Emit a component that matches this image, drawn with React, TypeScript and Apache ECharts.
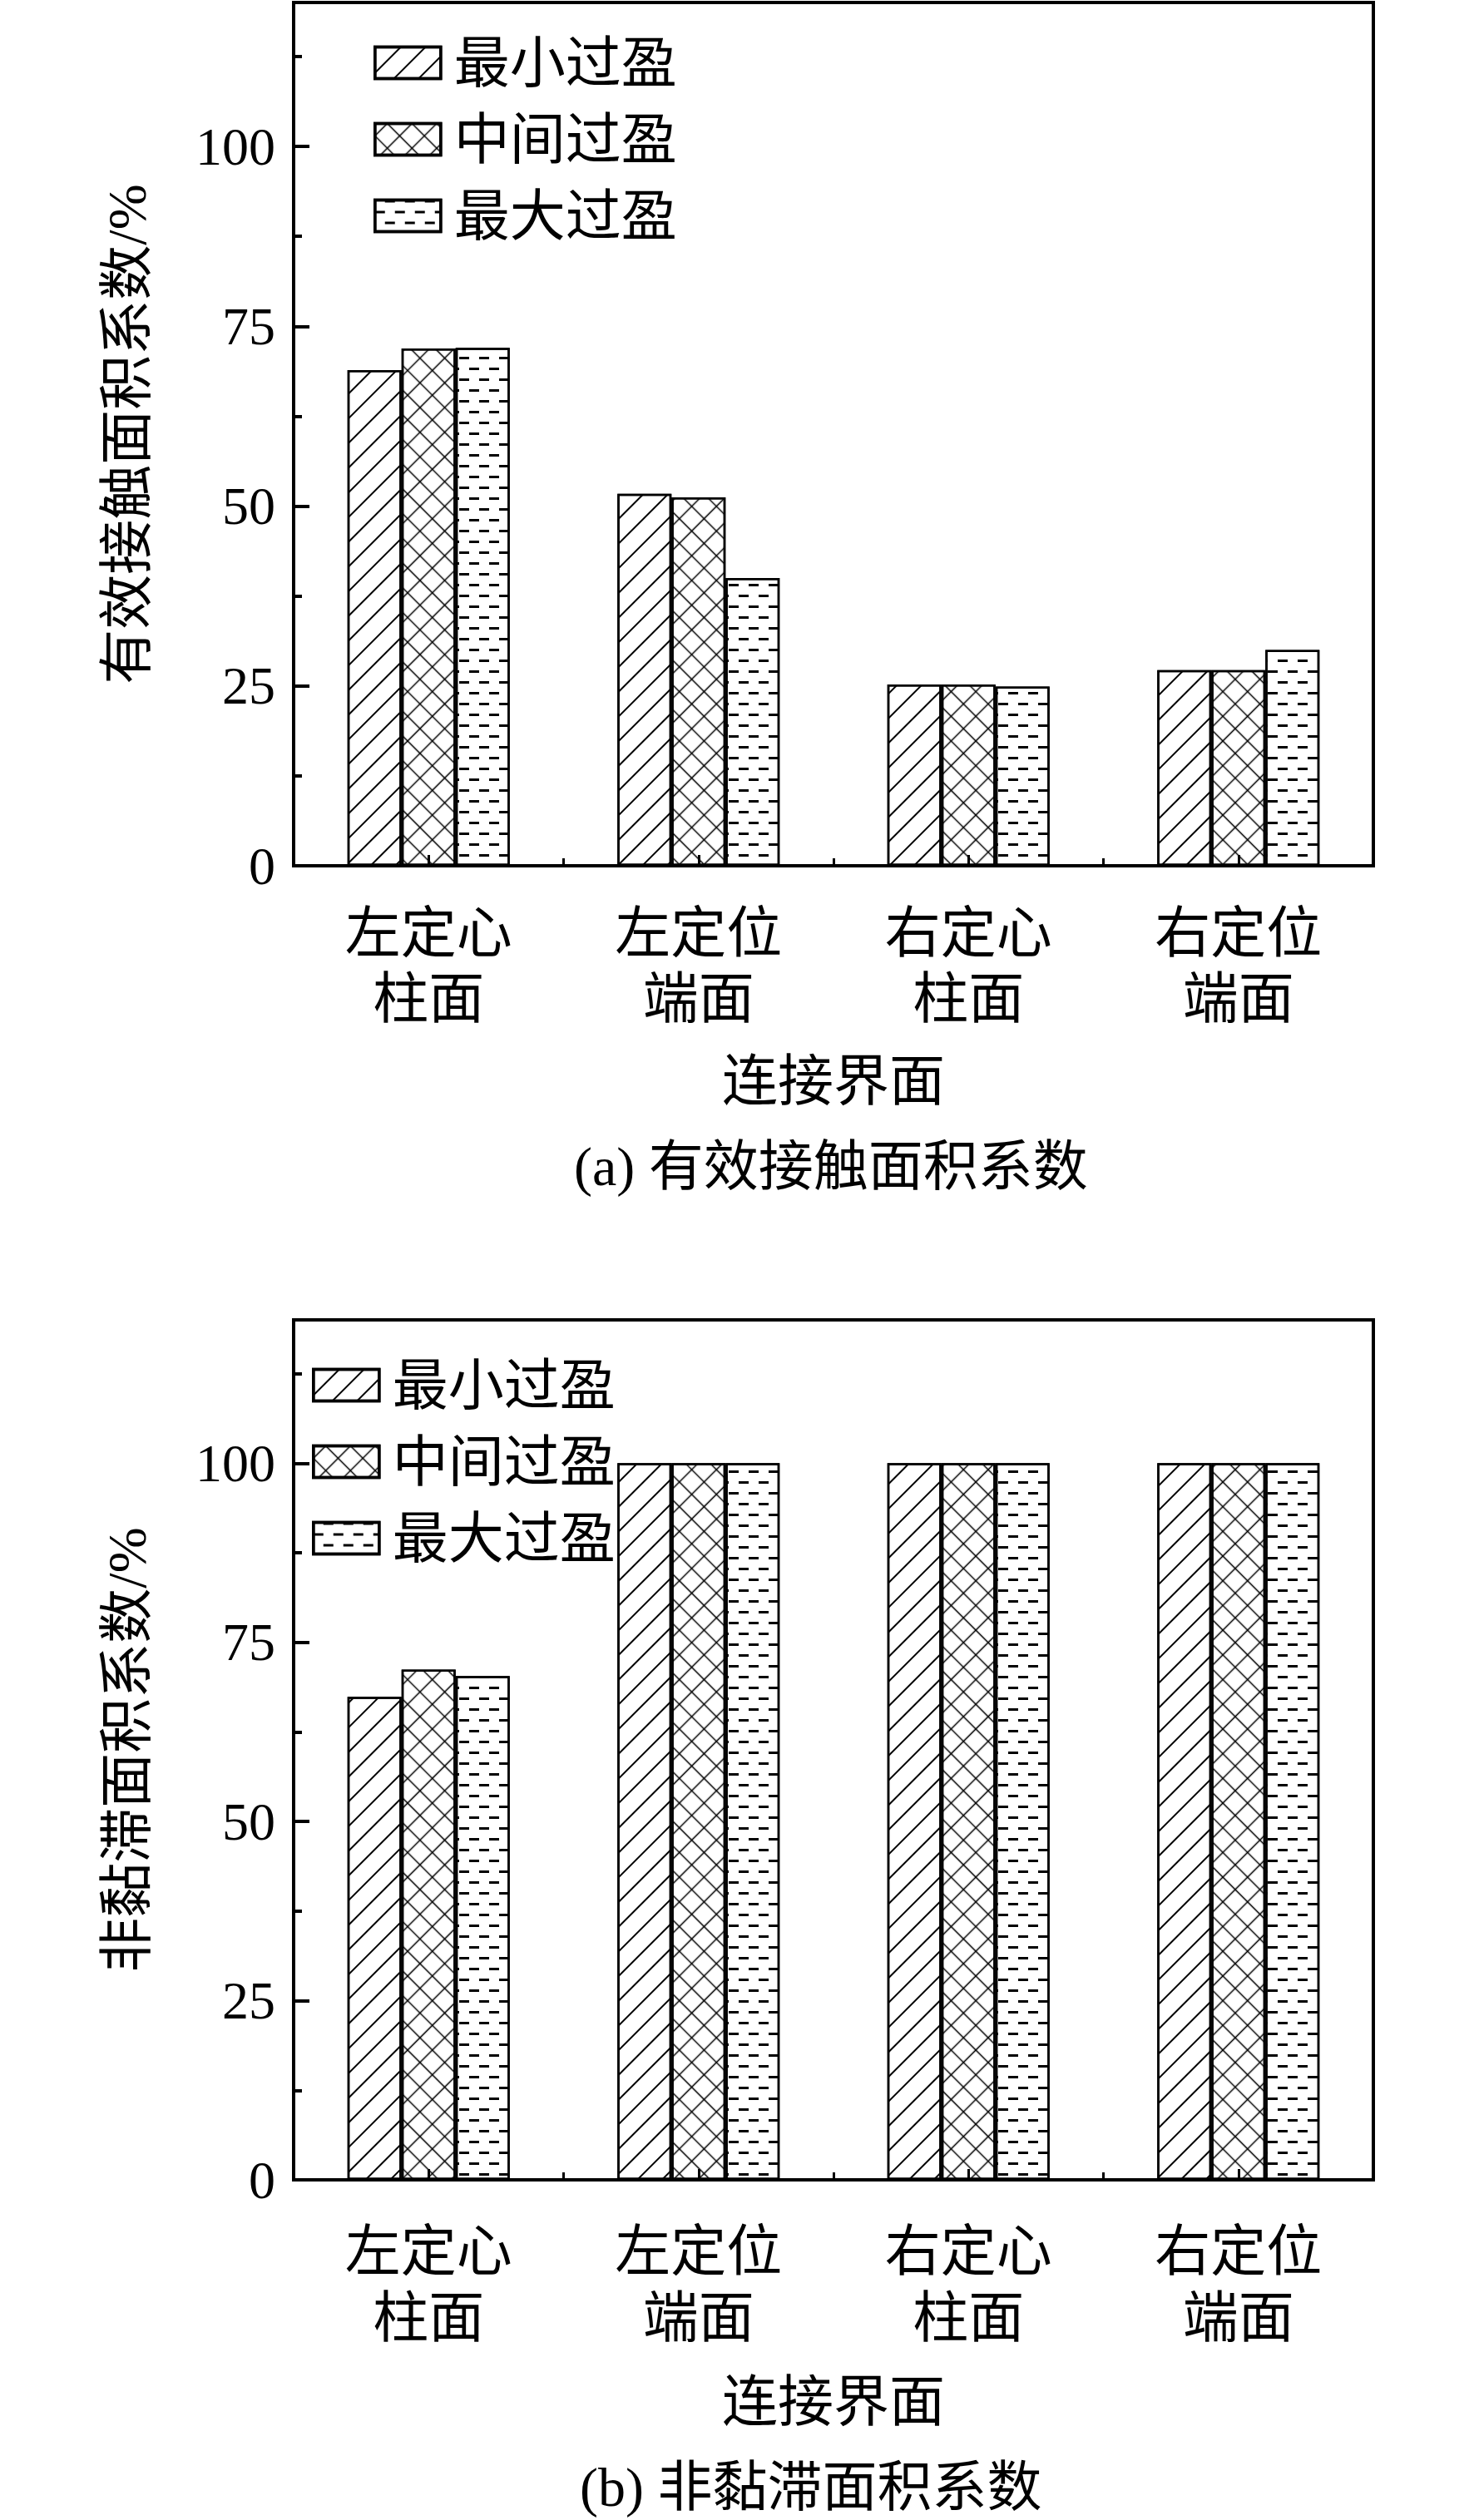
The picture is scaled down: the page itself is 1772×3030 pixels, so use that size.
import React, { useEffect, useRef } from 'react';
import * as echarts from 'echarts';

const categories = ['左定心\n柱面', '左定位\n端面', '右定心\n柱面', '右定位\n端面'];
const seriesNames = ['最小过盈', '中间过盈', '最大过盈'];

// (a) 有效接触面积系数 /%
const effMin = [68.9, 51.7, 25.2, 27.2];
const effMid = [71.9, 51.2, 25.2, 27.2];
const effMax = [72.0, 40.0, 24.9, 30.0];

// (b) 非黏滞面积系数 /%
const nonMin = [67.4, 100, 100, 100];
const nonMid = [71.2, 100, 100, 100];
const nonMax = [70.3, 100, 100, 100];

const yMax = 120;
const yMajor = 25;
const yMinor = 12.5;

const FONT = "'Liberation Serif', 'Noto Sans CJK SC', serif";
const CJK_SIZE = 67;
const NUM_SIZE = 64;
const MIX_SIZE = 66;

const decalSlash = {
  symbol: 'rect',
  symbolSize: 1,
  color: '#000',
  dashArrayX: [1, 0],
  dashArrayY: [1.5, 19],
  rotation: -Math.PI / 4,
};
const decalCross = {
  symbol: 'path://M0 9.5H20.5V11H0Z M9.5 0H11V20.5H9.5Z',
  symbolSize: 1,
  symbolKeepAspect: true,
  color: '#000',
  dashArrayX: [20.5, 0],
  dashArrayY: [20.5, 0],
  rotation: Math.PI / 4,
};
const decalDash = {
  symbol: 'rect',
  symbolSize: 1,
  color: '#000',
  dashArrayX: [
    [12, 12],
    [0, 12, 12, 0],
  ],
  dashArrayY: [2.5, 9.5],
  rotation: 0,
};
const decals = [decalSlash, decalCross, decalDash];

function buildOption() {
  const grids = [
    { left: 353, top: 3, width: 1298, height: 1038 },
    { left: 353, top: 1587, width: 1298, height: 1034 },
  ];
  const xLabelMargin = [41, 46];
  const xLabelLineHeight = [79, 80];
  const xNameGap = [225, 233];
  const yNames = ['有效接触面积系数/%', '非黏滞面积系数/%'];

  const xAxis: any[] = [];
  const yAxis: any[] = [];
  grids.forEach((_, gi) => {
    xAxis.push({
      type: 'category',
      gridIndex: gi,
      position: 'bottom',
      data: categories,
      axisLine: { show: true, lineStyle: { color: '#000', width: 4 } },
      axisTick: { show: true, inside: true, length: 9, lineStyle: { color: '#000', width: 3 } },
      axisLabel: {
        interval: 0,
        color: '#000',
        fontSize: CJK_SIZE,
        lineHeight: xLabelLineHeight[gi],
        fontFamily: FONT,
        margin: xLabelMargin[gi],
      },
      splitLine: { show: false },
      name: '连接界面',
      nameLocation: 'middle',
      nameGap: xNameGap[gi],
      nameTextStyle: { color: '#000', fontSize: CJK_SIZE, lineHeight: CJK_SIZE, fontFamily: FONT },
    });
    xAxis.push({
      type: 'category',
      gridIndex: gi,
      position: 'bottom',
      data: categories,
      z: 5,
      axisLine: { show: false },
      axisTick: {
        show: true,
        inside: true,
        alignWithLabel: true,
        length: 13,
        lineStyle: { color: '#000', width: 3 },
      },
      axisLabel: { show: false },
      splitLine: { show: false },
    });
    yAxis.push({
      type: 'value',
      gridIndex: gi,
      position: 'left',
      min: 0,
      max: yMax,
      interval: yMajor,
      axisLine: { show: true, lineStyle: { color: '#000', width: 4 } },
      axisTick: { show: true, inside: true, length: 19, lineStyle: { color: '#000', width: 4 } },
      axisLabel: {
        color: '#000',
        fontSize: NUM_SIZE,
        fontFamily: FONT,
        margin: 22,
        formatter: (v: number) => (v > 100 ? '' : String(v)),
      },
      splitLine: { show: false },
      name: yNames[gi],
      nameLocation: 'middle',
      nameGap: 168,
      nameTextStyle: { color: '#000', fontSize: MIX_SIZE, lineHeight: MIX_SIZE, fontFamily: FONT },
    });
    yAxis.push({
      type: 'value',
      gridIndex: gi,
      position: 'left',
      min: 0,
      max: yMax,
      interval: yMinor,
      axisLine: { show: false },
      axisTick: { show: true, inside: true, length: 10, lineStyle: { color: '#000', width: 4 } },
      axisLabel: { show: false },
      splitLine: { show: false },
    });
  });

  const dataSets = [
    [effMin, effMid, effMax],
    [nonMin, nonMid, nonMax],
  ];
  const series: any[] = [];
  dataSets.forEach((sets, gi) => {
    sets.forEach((vals, si) => {
      series.push({
        type: 'bar',
        name: seriesNames[si],
        xAxisIndex: gi * 2,
        yAxisIndex: gi * 2,
        data: vals,
        barWidth: 65,
        barGap: '0%',
        z: 2,
        itemStyle: {
          color: '#fff',
          borderColor: '#000',
          borderWidth: 2.5,
          decal: decals[si],
        },
      });
    });
  });

  const legendBase = {
    orient: 'vertical',
    icon: 'rect',
    itemWidth: 79,
    itemHeight: 38,
    itemGap: 25,
    selectedMode: false,
    padding: 0,
    data: seriesNames,
    itemStyle: { borderColor: '#000', borderWidth: 3.5 },
    textStyle: {
      color: '#000',
      fontSize: CJK_SIZE,
      lineHeight: CJK_SIZE,
      fontFamily: FONT,
      padding: [0, 0, 0, 11],
    },
  };

  const titleStyle = { color: '#000', fontSize: MIX_SIZE, lineHeight: MIX_SIZE, fontWeight: 'normal', fontFamily: FONT };

  return {
    animation: false,
    backgroundColor: '#fff',
    title: [
      { text: '(a) 有效接触面积系数', left: 690, top: 1369, padding: 0, textStyle: titleStyle },
      { text: '(b) 非黏滞面积系数', left: 697, top: 2957, padding: 0, textStyle: titleStyle },
    ],
    legend: [
      { ...legendBase, left: 449, top: 42 },
      { ...legendBase, left: 375, top: 1632 },
    ],
    grid: grids.map((g) => ({ ...g, show: true, borderColor: '#000', borderWidth: 4, backgroundColor: 'transparent', containLabel: false })),
    xAxis,
    yAxis,
    series,
  };
}

export default function App() {
  const ref = useRef<HTMLDivElement>(null);
  useEffect(() => {
    document.body.style.margin = '0';
    document.body.style.overflow = 'hidden';
    if (!ref.current) return;
    const chart = echarts.init(ref.current, undefined, { renderer: 'svg' });
    chart.setOption(buildOption() as any);
    return () => chart.dispose();
  }, []);
  return <div ref={ref} style={{ width: 1772, height: 3030 }} />;
}
